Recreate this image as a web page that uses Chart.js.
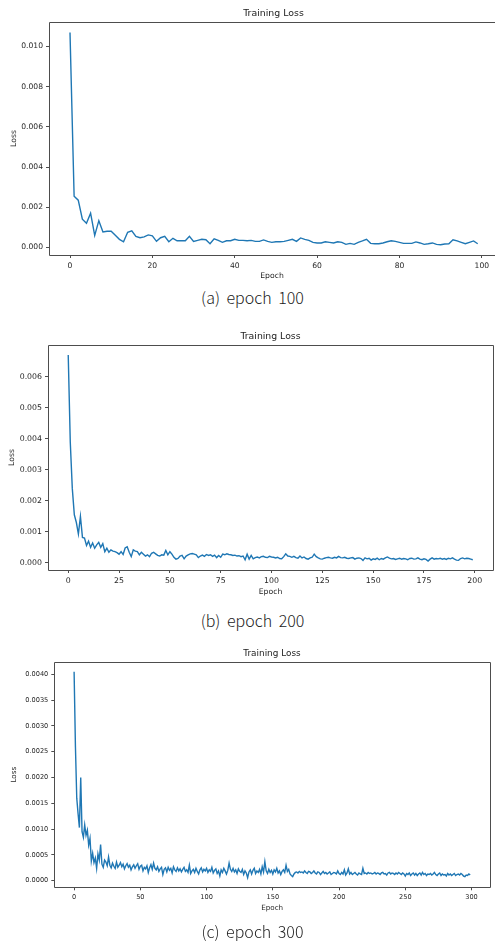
<!DOCTYPE html>
<html>
<head>
<meta charset="utf-8">
<script src="https://cdn.jsdelivr.net/npm/chart.js@4.4.1/dist/chart.umd.min.js"></script>
<style>
  html, body { margin: 0; padding: 0; background: #fff; }
  body { width: 495px; height: 941px; overflow: hidden; position: relative; }
  canvas { position: absolute; left: 0; }
  .caption {
    position: absolute; left: 0; width: 505px; text-align: center;
    font-family: "Noto Sans CJK KR", "Noto Sans", sans-serif; font-weight: 300;
    font-size: 16px; line-height: 20px; color: #222; word-spacing: 3px;
  }
</style>
</head>
<body>
<canvas id="chartA" width="495" height="285" style="top:0px"></canvas>
<div class="caption" style="top:287px">(a) epoch 100</div>
<canvas id="chartB" width="495" height="280" style="top:320px"></canvas>
<div class="caption" style="top:610px">(b) epoch 200</div>
<canvas id="chartC" width="495" height="280" style="top:640px"></canvas>
<div class="caption" style="top:921px">(c) epoch 300</div>
<script>
// loss per epoch
const lossA = [
  0.0107, 0.00255, 0.00235, 0.0014, 0.0012, 0.0017, 0.0006, 0.00133, 0.00077, 0.0008,
  0.0008, 0.0006, 0.0004, 0.00028, 0.00075, 0.00082, 0.00055, 0.00048, 0.00052, 0.00062,
  0.00057, 0.0003, 0.00048, 0.00055, 0.00028, 0.00045, 0.00033, 0.00033, 0.00033, 0.00055,
  0.0003, 0.00035, 0.0004, 0.00038, 0.00018, 0.00043, 0.00035, 0.00025, 0.00033, 0.00033,
  0.0004, 0.00035, 0.00035, 0.00033, 0.00035, 0.0003, 0.0003, 0.00037, 0.0003, 0.00025,
  0.00028, 0.00028, 0.0003, 0.00035, 0.0004, 0.0003, 0.00047, 0.0004, 0.00035, 0.00025,
  0.00022, 0.00022, 0.00028, 0.00025, 0.00022, 0.00028, 0.00025, 0.00015, 0.0002, 0.00015,
  0.00025, 0.00032, 0.0004, 0.0002, 0.00018, 0.00018, 0.00022, 0.00028, 0.00033, 0.0003,
  0.00025, 0.0002, 0.0002, 0.0002, 0.00027, 0.00022, 0.00015, 0.00018, 0.00022, 0.00015,
  0.00013, 0.00017, 0.00018, 0.00038, 0.00032, 0.00025, 0.00018, 0.00025, 0.00032, 0.00018
];
const lossB = [
  0.0067, 0.0039, 0.0024, 0.00155, 0.0013, 0.00093, 0.0015, 0.00082, 0.0008, 0.00056,
  0.0007, 0.0005, 0.00064, 0.00047, 0.00058, 0.00066, 0.0005, 0.00062, 0.00036, 0.00047,
  0.00034, 0.00042, 0.00038, 0.00036, 0.00033, 0.00028, 0.00036, 0.00027, 0.00048, 0.00052,
  0.00034, 0.0002, 0.00042, 0.00038, 0.00036, 0.00026, 0.00034, 0.00028, 0.00022, 0.00026,
  0.0002, 0.00031, 0.00034, 0.00029, 0.00024, 0.00022, 0.00026, 0.00025, 0.0004, 0.00026,
  0.00036, 0.00028, 0.00018, 0.00012, 0.00014, 0.00022, 0.00024, 0.00013, 0.00022, 0.00026,
  0.00029, 0.0003, 0.00028, 0.00026, 0.00017, 0.00022, 0.00025, 0.00021, 0.00027, 0.00024,
  0.00026, 0.00021, 0.00025, 0.00017, 0.00024, 0.00018, 0.00028, 0.00026, 0.00029, 0.00027,
  0.00026, 0.00024, 0.00025, 0.00022, 0.00023, 0.0002, 0.00022, 0.0001, 0.00028, 0.00012,
  0.00024, 0.00013, 0.00017, 0.00019, 0.00016, 0.0002, 0.00021, 0.00018, 0.00017, 0.00021,
  0.00019, 0.00018, 0.00016, 0.00018, 0.00014, 0.00013, 0.0002, 0.00029, 0.00022, 0.00021,
  0.00018, 0.00021, 0.00017, 0.00015, 0.00022, 0.00016, 0.00019, 0.00014, 0.00012, 0.00016,
  0.00018, 0.00028, 0.0002, 0.00016, 0.00013, 0.00012, 0.00015, 0.00017, 0.00018, 0.00016,
  0.00015, 0.00018, 0.00016, 0.00021, 0.00017, 0.00016, 0.00018, 0.00015, 0.00014, 0.00016,
  0.00017, 0.00012, 0.00015, 0.00016, 0.00014, 0.00008, 0.00016, 0.00013, 0.00015, 0.00009,
  0.00013, 0.00011, 0.00015, 0.0001, 0.00014, 0.00012, 0.00016, 0.00019, 0.00015, 0.00013,
  0.00014, 0.00011, 0.00013, 0.00015, 0.00012, 0.00014, 0.00013, 0.0001, 0.00014, 0.00015,
  0.00012, 0.00013, 0.00016, 0.00012, 0.0001, 0.00013, 0.00011, 0.00006, 0.00012, 0.00016,
  0.00012, 0.00014, 0.00013, 0.00015, 0.00012, 0.00014, 0.00011, 0.00015, 0.00013, 0.00016,
  0.00012, 0.00009, 0.00008, 0.00014, 0.00016, 0.00013, 0.00015, 0.00014, 0.00012, 0.0001
];
const lossC = [
  0.00405, 0.0026, 0.0016, 0.0013, 0.00103, 0.002, 0.00095, 0.00084, 0.00108, 0.00088,
  0.00098, 0.00069, 0.00082, 0.00038, 0.00053, 0.00035, 0.00044, 0.00024, 0.00052, 0.0004,
  0.0007, 0.00032, 0.00026, 0.0004, 0.00036, 0.00029, 0.00046, 0.0003, 0.00025, 0.00034,
  0.00028, 0.00024, 0.00036, 0.00026, 0.0003, 0.00035, 0.00027, 0.00032, 0.00023, 0.00029,
  0.00033, 0.00026, 0.0003, 0.00021, 0.00027, 0.00031, 0.00024, 0.00029, 0.00033, 0.00022,
  0.00028, 0.0003, 0.00019, 0.00026, 0.00023, 0.00029, 0.00016, 0.00025, 0.00031, 0.00022,
  0.00034, 0.00024, 0.00021, 0.00027, 0.00018, 0.00023, 0.00026, 0.00012, 0.00022, 0.00025,
  0.00017, 0.00026, 0.0002, 0.00024, 0.00015, 0.00027, 0.00021, 0.00018, 0.00025, 0.00019,
  0.00023, 0.00017, 0.00022, 0.00026, 0.00018, 0.00021, 0.00016, 0.0003, 0.00014, 0.00019,
  0.00022, 0.00016, 0.00024, 0.00018, 0.00013, 0.00021, 0.00025, 0.00017, 0.00022, 0.00019,
  0.00024, 0.00016, 0.00021, 0.00018, 0.00026, 0.00015, 0.0002, 0.00023, 0.00014, 0.00019,
  0.00009, 0.00021, 0.00016, 0.00024, 0.00019, 0.00013, 0.0002, 0.00034, 0.00022, 0.00018,
  0.00024, 0.00017, 0.00021, 0.00014, 0.00023, 0.00018, 0.00016, 0.00022, 0.00012, 0.00019,
  0.00015, 0.00006, 0.00017, 0.00021, 0.00013, 0.0002, 0.00024, 0.00014, 0.00019, 0.00016,
  0.00022, 0.00013, 0.00027, 0.00017, 0.00037, 0.00019, 0.00014, 0.00022, 0.00016, 0.0002,
  0.00013, 0.00021, 0.00017, 0.00024, 0.00015, 0.00019, 0.00012, 0.00018, 0.00021, 0.00016,
  0.0003, 0.00018, 0.00022, 0.00013, 0.0001, 0.00008, 0.00013, 0.00016, 0.00017, 0.00015,
  0.00018, 0.00016, 0.00017, 0.00015, 0.00019, 0.00016, 0.00014, 0.00018, 0.00017, 0.00014,
  0.00016, 0.00019, 0.00015, 0.00013, 0.00017, 0.00016, 0.00012, 0.00015, 0.00018, 0.00014,
  0.00016, 0.00013, 0.00015, 0.00017, 0.00012, 0.00014, 0.00016, 0.00015, 0.00013, 0.00019,
  0.00014, 0.00012, 0.00016, 0.00013, 0.00021, 0.00011, 0.00015, 0.00023, 0.00013, 0.00016,
  0.00012, 0.00014, 0.00016, 0.00013, 0.00011, 0.00015, 0.00013, 0.00012, 0.00024, 0.00014,
  0.00015, 0.00013, 0.00016, 0.00014, 0.00015, 0.00013, 0.00014, 0.00016, 0.00013, 0.00015,
  0.00014, 0.00012, 0.00015, 0.00016, 0.00013, 0.00014, 0.00011, 0.00015, 0.00016, 0.00013,
  0.00015, 0.00014, 0.00012, 0.00015, 0.00013, 0.00016, 0.00014, 0.00012, 0.00015, 0.00013,
  0.00009, 0.00014, 0.00012, 0.00015, 0.0001, 0.00013, 0.00015, 0.00011, 0.00014, 0.0001,
  0.00013, 0.00015, 0.00011, 0.00016, 0.00012, 0.00014, 0.0001, 0.00013, 0.00012, 0.00014,
  0.00011, 0.00013, 0.00016, 0.00012, 0.0001, 0.00013, 0.00015, 0.0001, 0.00013, 0.00011,
  0.00012, 0.00009, 0.00014, 0.00011, 0.00013, 0.0001, 0.00012, 0.00014, 0.0001, 0.00012,
  0.00013, 0.00011, 0.00014, 0.00012, 0.00009, 0.00008, 0.00011, 0.0001, 0.00013, 0.00011
];

const epochTicksA = [0, 20, 40, 60, 80, 100];
const lossTicksA = [0, 0.002, 0.004, 0.006, 0.008, 0.010];
const epochTicksB = [0, 25, 50, 75, 100, 125, 150, 175, 200];
const lossTicksB = [0, 0.001, 0.002, 0.003, 0.004, 0.005, 0.006];
const epochTicksC = [0, 50, 100, 150, 200, 250, 300];
const lossTicksC = [0, 0.0005, 0.001, 0.0015, 0.002, 0.0025, 0.003, 0.0035, 0.004];

const axisColor = '#4d4d4d';
const textColor = '#262626';

// matplotlib style spines + title centred over the axes
const framePlugin = {
  id: 'frameTitle',
  afterDatasetsDraw(chart, args, o) {
    const a = chart.chartArea;
    const c = chart.ctx;
    const l = Math.round(a.left) + 0.5;
    const t = Math.round(a.top) + 0.5;
    const r = Math.round(a.right) + 0.5;
    const b = Math.round(a.bottom) + 0.5;
    c.save();
    c.strokeStyle = axisColor;
    c.lineWidth = 1;
    c.beginPath();
    c.moveTo(o.topEnd, t); c.lineTo(l, t); c.lineTo(l, b); c.lineTo(o.topEnd, b);
    if (o.rightSpine) { c.moveTo(r, t); c.lineTo(r, b); }
    c.stroke();
    c.fillStyle = '#222';
    c.font = o.size + 'px "DejaVu Sans"';
    c.textAlign = 'center';
    c.textBaseline = 'middle';
    c.fillText(o.text, o.x, o.y);
    c.restore();
  }
};

function makeChart(id, losses, epochTicks, lossTicks, opt) {
  const ctx = document.getElementById(id).getContext('2d');
  const points = losses.map((v, i) => ({ x: i, y: v }));
  const tickFont = { family: 'DejaVu Sans', size: opt.tickSize, lineHeight: 1.2 };
  const labelFont = { family: 'DejaVu Sans', size: opt.labelSize, lineHeight: 1.2 };
  const grid = { display: true, drawOnChartArea: false, drawTicks: true, tickLength: 3, color: axisColor, tickColor: axisColor, lineWidth: 1 };

  return new Chart(ctx, {
    type: 'line',
    data: {
      datasets: [{
        data: points,
        borderColor: '#1f77b4',
        borderWidth: 1.4,
        pointRadius: 0,
        tension: 0,
        fill: false
      }]
    },
    options: {
      responsive: false,
      animation: false,
      layout: { padding: { top: opt.top, left: 0, right: opt.right, bottom: 0 } },
      plugins: {
        legend: { display: false },
        tooltip: { enabled: false },
        frameTitle: {
          text: 'Training Loss', x: opt.titleX, y: opt.titleY, size: opt.titleSize,
          rightSpine: opt.rightSpine, topEnd: opt.spineEnd
        }
      },
      scales: {
        x: {
          type: 'linear',
          bounds: 'data',
          min: opt.xMin,
          max: opt.xMax,
          afterFit: s => { s.height = opt.xHeight; },
          afterBuildTicks: s => { s.ticks = epochTicks.map(v => ({ value: v })); },
          grid: grid,
          border: { display: false },
          ticks: { font: tickFont, color: textColor, padding: 3, autoSkip: false, maxRotation: 0, callback: v => String(v) },
          title: { display: true, text: 'Epoch', font: labelFont, color: textColor, padding: { top: 0, bottom: opt.xTitlePad } }
        },
        y: {
          type: 'linear',
          bounds: 'data',
          min: opt.yMin,
          max: opt.yMax,
          afterFit: s => { s.width = opt.yWidth; },
          afterBuildTicks: s => { s.ticks = lossTicks.map(v => ({ value: v })); },
          grid: grid,
          border: { display: false },
          ticks: { font: tickFont, color: textColor, padding: 3, autoSkip: false, callback: v => v.toFixed(opt.digits) },
          title: { display: true, text: 'Loss', font: labelFont, color: textColor, padding: { top: opt.yTitlePad, bottom: 0 } }
        }
      }
    },
    plugins: [framePlugin]
  });
}

// (a): the right spine sits past the window edge, so it is not drawn
makeChart('chartA', lossA, epochTicksA, lossTicksA, {
  top: 22, right: 0, rightSpine: false, spineEnd: 495, titleX: 273.5, titleY: 14, titleSize: 9.4, tickSize: 7.6, labelSize: 7.7,
  xMin: -5.1, xMax: 103.2, yMin: -0.00038, yMax: 0.01122,
  xHeight: 30, yWidth: 49, xTitlePad: 4.5, yTitlePad: 9, digits: 3
});

makeChart('chartB', lossB, epochTicksB, lossTicksB, {
  top: 25, right: 2, rightSpine: true, spineEnd: 493.5, titleX: 270.5, titleY: 17, titleSize: 9.3, tickSize: 7.8, labelSize: 7.7,
  xMin: -9.95, xMax: 208.95, yMin: -0.00023, yMax: 0.00702,
  xHeight: 30, yWidth: 48, xTitlePad: 3.8, yTitlePad: 7.7, digits: 3
});

makeChart('chartC', lossC, epochTicksC, lossTicksC, {
  top: 22, right: 5, rightSpine: true, spineEnd: 490.5, titleX: 272, titleY: 13.5, titleSize: 8.9, tickSize: 6.6, labelSize: 7.2,
  xMin: -14.95, xMax: 313.95, yMin: -0.000128, yMax: 0.00424,
  xHeight: 32.7, yWidth: 54.3, xTitlePad: 7.8, yTitlePad: 10.3, digits: 4
});
</script>
</body>
</html>
